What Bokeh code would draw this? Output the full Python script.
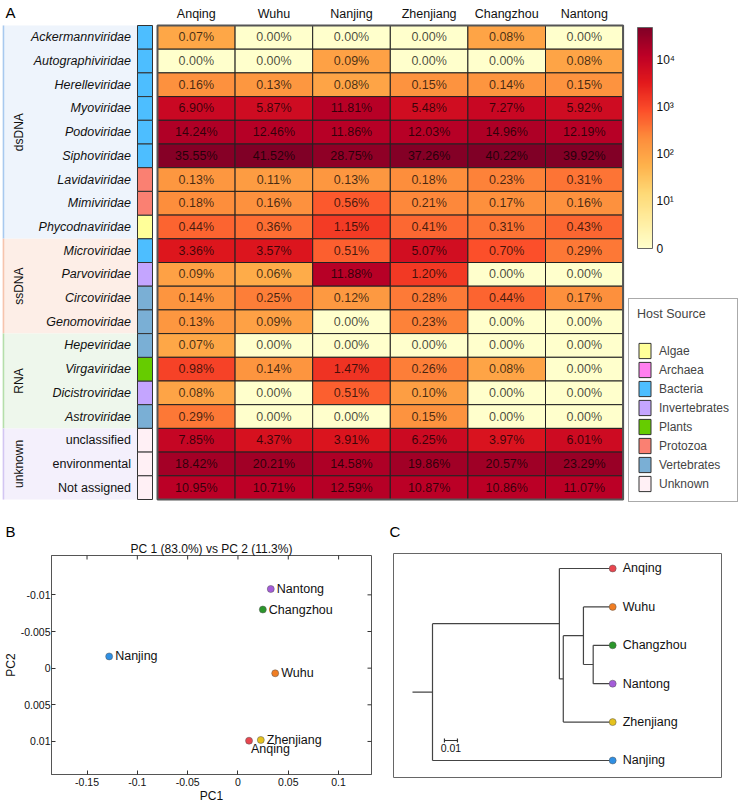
import numpy as np
from bokeh.plotting import figure
from bokeh.models import (Range1d, ColumnDataSource, LinearColorMapper, ColorBar,
                          FixedTicker, Legend, LegendItem, Title)
from bokeh.layouts import column, row
from bokeh.core.properties import value
from bokeh.embed import file_html
from bokeh.resources import INLINE

FONT = "Liberation Sans"

# ---------------- data: panel A ----------------
samples = ["Anqing", "Wuhu", "Nanjing", "Zhenjiang", "Changzhou", "Nantong"]
families = ["Ackermannviridae", "Autographiviridae", "Herelleviridae", "Myoviridae",
            "Podoviridae", "Siphoviridae", "Lavidaviridae", "Mimiviridae",
            "Phycodnaviridae", "Microviridae", "Parvoviridae", "Circoviridae",
            "Genomoviridae", "Hepeviridae", "Virgaviridae", "Dicistroviridae",
            "Astroviridae", "unclassified", "environmental", "Not assigned"]
family_host = ["Bacteria", "Bacteria", "Bacteria", "Bacteria", "Bacteria", "Bacteria",
               "Protozoa", "Protozoa", "Algae", "Bacteria", "Invertebrates", "Vertebrates",
               "Vertebrates", "Vertebrates", "Plants", "Invertebrates", "Vertebrates",
               "Unknown", "Unknown", "Unknown"]
family_group = ["dsDNA"] * 9 + ["ssDNA"] * 4 + ["RNA"] * 4 + ["unknown"] * 3

pct_anqing = [0.07, 0.00, 0.16, 6.90, 14.24, 35.55, 0.13, 0.18, 0.44, 3.36,
              0.09, 0.14, 0.13, 0.07, 0.98, 0.08, 0.29, 7.85, 18.42, 10.95]
pct_wuhu = [0.00, 0.00, 0.13, 5.87, 12.46, 41.52, 0.11, 0.16, 0.36, 3.57,
            0.06, 0.25, 0.09, 0.00, 0.14, 0.00, 0.00, 4.37, 20.21, 10.71]
pct_nanjing = [0.00, 0.09, 0.08, 11.81, 11.86, 28.75, 0.13, 0.56, 1.15, 0.51,
               11.88, 0.12, 0.00, 0.00, 1.47, 0.51, 0.00, 3.91, 14.58, 12.59]
pct_zhenjiang = [0.00, 0.00, 0.15, 5.48, 12.03, 37.26, 0.18, 0.21, 0.41, 5.07,
                 1.20, 0.28, 0.23, 0.00, 0.26, 0.10, 0.15, 6.25, 19.86, 10.87]
pct_changzhou = [0.08, 0.00, 0.14, 7.27, 14.96, 40.22, 0.23, 0.17, 0.31, 0.70,
                 0.00, 0.44, 0.00, 0.00, 0.08, 0.00, 0.00, 3.97, 20.57, 10.86]
pct_nantong = [0.00, 0.08, 0.15, 5.92, 12.19, 39.92, 0.31, 0.16, 0.43, 0.29,
               0.00, 0.17, 0.00, 0.00, 0.00, 0.00, 0.00, 6.01, 23.29, 11.07]
pct_table = [pct_anqing, pct_wuhu, pct_nanjing, pct_zhenjiang, pct_changzhou, pct_nantong]

host_types = ["Algae", "Archaea", "Bacteria", "Invertebrates", "Plants",
              "Protozoa", "Vertebrates", "Unknown"]
colorbar_ticks = [0, 1, 2, 3, 4]
colorbar_tick_labels = ["0", "10\u00b9", "10\u00b2", "10\u00b3", "10\u2074"]
reads_total = 120000          # approx. reads per sample (colour scale = log10(1+reads))
colorbar_max = 4.7

# ---------------- data: panel B ----------------
pca_title = "PC 1 (83.0%) vs PC 2 (11.3%)"
pc1 = [0.011, 0.037, -0.128, 0.0227, 0.0247, 0.0326]
pc2 = [0.0099, 0.0007, -0.0016, 0.0098, -0.0080, -0.0108]
pc1_ticks = [-0.15, -0.1, -0.05, 0, 0.05, 0.1]
pc1_tick_labels = ["-0.15", "-0.1", "-0.05", "0", "0.05", "0.1"]
pc2_ticks = [-0.01, -0.005, 0, 0.005, 0.01]
pc2_tick_labels = ["-0.01", "-0.005", "0", "0.005", "0.01"]
pc1_lim = (-0.1853, 0.1327)
pc2_lim = (0.01451, -0.01537)   # reversed axis (negative values at the top)

# ---------------- data: panel C ----------------
tree_tips = ["Anqing", "Wuhu", "Changzhou", "Nantong", "Zhenjiang", "Nanjing"]
tree_tip_depth = 0.154
tree_merges = [("Changzhou", "Nantong", "n1", 0.139),
               ("Wuhu", "n1", "n2", 0.1315),
               ("n2", "Zhenjiang", "n3", 0.116),
               ("Anqing", "n3", "n4", 0.113),
               ("n4", "Nanjing", "root", 0.0154)]
tree_scale = 0.01
tree_scale_label = "0.01"

panel_letters = ["A", "B", "C"]

# ---------------- styles ----------------
SAMPLE_COLORS = {"Anqing": "#E8464F", "Wuhu": "#F07D22", "Nanjing": "#2F8FE3",
                 "Zhenjiang": "#E5C21E", "Changzhou": "#2B962B", "Nantong": "#A45CD9"}
HOST_COLORS = {"Algae": "#FFFF99", "Archaea": "#FF7FEF", "Bacteria": "#4DBEFF",
               "Invertebrates": "#C4A5FF", "Plants": "#66CC00", "Protozoa": "#FA8072",
               "Vertebrates": "#7AAFD5", "Unknown": "#FFF0F5"}
GROUP_FILL = {"dsDNA": "#EEF4FC", "ssDNA": "#FDEEE7", "RNA": "#EEF7EC", "unknown": "#F4F0FC"}
GROUP_LINE = {"dsDNA": "#A8C9EF", "ssDNA": "#F6C4AD", "RNA": "#B5DEAA", "unknown": "#D3C6F2"}
YLORRD = ["#ffffcc", "#ffeda0", "#fed976", "#feb24c", "#fd8d3c",
          "#fc4e2a", "#e31a1c", "#bd0026", "#800026"]


def interp_palette(colors, n):
    rgb = np.array([[int(c[i:i + 2], 16) for i in (1, 3, 5)] for c in colors], float)
    t = np.linspace(0, len(colors) - 1, n)
    out = []
    for v in t:
        i = min(int(v), len(colors) - 2)
        f = v - i
        c = rgb[i] * (1 - f) + rgb[i + 1] * f
        out.append("#%02x%02x%02x" % tuple(int(round(x)) for x in c))
    return out


PALETTE = interp_palette(YLORRD, 256)
mapper = LinearColorMapper(palette=PALETTE, low=0, high=colorbar_max)

# ================= PANEL A (also carries the panel letters) =================
A_W, A_H = 738, 539
CW, RH = 77.6, 23.7
HEAT_LEFT, HEAT_TOP = 157, 25
xa0 = -0.5 - HEAT_LEFT / CW
ya0 = -0.5 - HEAT_TOP / RH


def ax(px):
    return xa0 + px / CW


def ay(py):
    return ya0 + py / RH


pA = figure(width=A_W, height=A_H, output_backend="svg", toolbar_location=None, tools="",
            x_range=Range1d(xa0, xa0 + A_W / CW), y_range=Range1d(ya0 + A_H / RH, ya0),
            x_axis_location=None, y_axis_location=None, min_border=0, frame_align=False)
pA.grid.visible = False
pA.outline_line_color = None

n_rows = len(families)
rows_idx = list(range(n_rows))

# group bands
groups_order = []
for g in family_group:
    if g not in groups_order:
        groups_order.append(g)
for g in groups_order:
    r = [i for i, gg in enumerate(family_group) if gg == g]
    y0, y1 = r[0] - 0.5, r[-1] + 0.5
    pA.quad(left=ax(2), right=ax(137), bottom=y1, top=y0, fill_color=GROUP_FILL[g],
            line_color=None)
    pA.segment(x0=ax(3), x1=ax(3), y0=y0, y1=y1, line_color=GROUP_LINE[g], line_width=1.5)
    pA.text(x=[ax(18)], y=[(y0 + y1) / 2], text=[g], angle=np.pi / 2,
            text_align="center", text_baseline="middle",
            text_font=value(FONT), text_font_size=value("12px"), text_color="#111")

# family labels
fam_src = ColumnDataSource(dict(
    x=[ax(130.5)] * n_rows, y=rows_idx, text=families,
    style=["normal" if g == "unknown" else "italic" for g in family_group]))
pA.text(x="x", y="y", text="text", source=fam_src, text_align="right",
        text_baseline="middle", text_font=value(FONT), text_font_size=value("12.5px"),
        text_font_style="style", text_color="#111")

# host colour column (one renderer per host type, used by the legend)
host_renderers = {}
for h in host_types:
    r = [i for i, hh in enumerate(family_host) if hh == h]
    xs = [ax(144.5)] * len(r) if r else [np.nan]
    ys = r if r else [np.nan]
    host_renderers[h] = pA.rect(x=xs, y=ys, width=15 / CW, height=1,
                                fill_color=HOST_COLORS[h], line_color="#333", line_width=1)

# heatmap cells
hx, hy, hv, ht = [], [], [], []
for j, s in enumerate(samples):
    for i, f in enumerate(families):
        p = pct_table[j][i]
        hx.append(j)
        hy.append(i)
        hv.append(np.log10(1 + p / 100.0 * reads_total))
        ht.append("%.2f%%" % p)
heat_src = ColumnDataSource(dict(x=hx, y=hy, v=hv, t=ht))
pA.rect(x="x", y="y", width=1, height=1, source=heat_src,
        fill_color={"field": "v", "transform": mapper}, line_color="#222", line_width=1)
pA.text(x="x", y="y", text="t", source=heat_src, text_align="center", text_baseline="middle",
        text_font=value(FONT), text_font_size=value("12.5px"), text_color="black",
        text_alpha=0.72)
pA.rect(x=[(len(samples) - 1) / 2], y=[(n_rows - 1) / 2], width=len(samples), height=n_rows,
        fill_color=None, line_color="#555", line_width=2)

# column headers
pA.text(x=list(range(len(samples))), y=[ay(13)] * len(samples), text=samples,
        text_align="center", text_baseline="middle", text_font=value(FONT),
        text_font_size=value("12.5px"), text_color="#111")

# panel letters A, B, C
pA.text(x=[ax(5), ax(5), ax(389)], y=[ay(12), ay(530.5), ay(530.5)], text=panel_letters,
        text_align="left", text_baseline="middle",
        text_font=value(FONT), text_font_size=value("15px"), text_color="black")

# colour bar
cb = ColorBar(color_mapper=mapper, ticker=FixedTicker(ticks=colorbar_ticks),
              major_label_overrides=dict(zip(colorbar_ticks, colorbar_tick_labels)),
              width=15, height=221, location=(637, A_H - 248), padding=0,
              orientation="vertical", label_standoff=4,
              major_label_text_font=FONT, major_label_text_font_size="12px",
              major_label_text_color="#111",
              major_tick_line_color=None, minor_tick_line_color=None,
              bar_line_color="#666", border_line_color=None, background_fill_alpha=0)
pA.add_layout(cb, "center")

# host legend
legend = Legend(items=[LegendItem(label=h, renderers=[host_renderers[h]]) for h in host_types],
                title="Host Source", location=(628, A_H - 502), orientation="vertical",
                padding=8, spacing=0, margin=0, glyph_height=19, glyph_width=15,
                label_height=19, label_standoff=7, title_standoff=20,
                label_text_font=FONT, label_text_font_size="12px",
                title_text_font=FONT, title_text_font_size="12.5px",
                title_text_font_style="normal", border_line_color="#555",
                background_fill_color="white", background_fill_alpha=1)
pA.add_layout(legend, "center")

# ================= PANEL B =================
BC_H = 805 - A_H
pB = figure(width=378, height=BC_H, output_backend="svg", toolbar_location=None, tools="",
            x_range=Range1d(*pc1_lim), y_range=Range1d(*pc2_lim), frame_align=False,
            min_border_left=51, min_border_right=7, min_border_top=13, min_border_bottom=24)
pB.grid.visible = False
pB.outline_line_color = "#555"


def style_axis(a, standoff):
    a.major_tick_in = 4
    a.major_tick_out = 0
    a.minor_tick_line_color = None
    a.axis_line_color = "#555"
    a.major_tick_line_color = "#333"
    a.major_label_text_font = FONT
    a.major_label_text_color = "#111"
    a.major_label_text_font_size = "10.5px"
    a.major_label_standoff = standoff
    a.axis_label_text_font = FONT
    a.axis_label_text_font_size = "12px"
    a.axis_label_text_font_style = "normal"
    a.axis_label_text_color = "#111"
    a.axis_label_standoff = 0


xa = pB.xaxis[0]
xa.ticker = FixedTicker(ticks=pc1_ticks)
xa.major_label_overrides = dict(zip(pc1_ticks, pc1_tick_labels))
style_axis(xa, 3)
xa.axis_label = "PC1"

ya_ = pB.yaxis[0]
ya_.ticker = FixedTicker(ticks=pc2_ticks)
ya_.major_label_overrides = dict(zip(pc2_ticks, pc2_tick_labels))
style_axis(ya_, 1)
ya_.axis_label = "PC2"

# mirrored inward ticks on the top and right frame edges (half of each dash is clipped)
pB.scatter(x=pc1_ticks, y=[pc2_lim[1]] * len(pc1_ticks), marker="dash", size=8,
           angle=np.pi / 2, line_color="#333", line_width=1)
pB.scatter(x=[pc1_lim[1]] * len(pc2_ticks), y=pc2_ticks, marker="dash", size=8,
           angle=0, line_color="#333", line_width=1)

pB.add_layout(Title(text=pca_title, align="center", text_font=FONT, text_font_size="12px",
                    text_font_style="normal", standoff=0, text_color="#111"), "above")

LABEL_NUDGE = {"Anqing": (2, 8)}
b_src = ColumnDataSource(dict(
    x=pc1, y=pc2, name=samples, color=[SAMPLE_COLORS[s] for s in samples],
    dx=[LABEL_NUDGE.get(s, (6, 0))[0] for s in samples],
    dy=[LABEL_NUDGE.get(s, (6, 0))[1] for s in samples]))
pB.scatter(x="x", y="y", source=b_src, size=7, fill_color="color", line_color="#555",
           line_width=0.5)
pB.text(x="x", y="y", text="name", source=b_src, x_offset="dx", y_offset="dy",
        text_baseline="middle", text_align="left", text_font=value(FONT),
        text_font_size=value("12.5px"), text_color="#111")

# ================= PANEL C =================
pC = figure(width=360, height=BC_H, output_backend="svg", toolbar_location=None, tools="",
            x_range=Range1d(-0.0146, 0.2377), y_range=Range1d(5.443, -0.39),
            x_axis_location=None, y_axis_location=None, frame_align=False,
            min_border_left=15, min_border_right=17, min_border_top=14, min_border_bottom=28)
pC.grid.visible = False
pC.outline_line_color = "#666"

node_y = {t: i for i, t in enumerate(tree_tips)}
node_x = {t: tree_tip_depth for t in tree_tips}
sx0, sy0, sx1, sy1 = [], [], [], []
for c1, c2, n, d in tree_merges:
    node_y[n] = (node_y[c1] + node_y[c2]) / 2
    node_x[n] = d
    sx0 += [d, d, d]
    sy0 += [node_y[c1], node_y[c1], node_y[c2]]
    sx1 += [d, node_x[c1], node_x[c2]]
    sy1 += [node_y[c2], node_y[c1], node_y[c2]]
root = tree_merges[-1][2]
sx0.append(0)
sy0.append(node_y[root])
sx1.append(node_x[root])
sy1.append(node_y[root])
pC.segment(x0=sx0, y0=sy0, x1=sx1, y1=sy1, line_color="#444", line_width=1.2)

c_src = ColumnDataSource(dict(x=[tree_tip_depth] * len(tree_tips), y=list(range(len(tree_tips))),
                              name=tree_tips, color=[SAMPLE_COLORS[s] for s in tree_tips]))
pC.scatter(x="x", y="y", source=c_src, size=7, fill_color="color", line_color="#555",
           line_width=0.5)
pC.text(x="x", y="y", text="name", source=c_src, x_offset=10, text_baseline="middle",
        text_align="left", text_font=value(FONT), text_font_size=value("12.5px"),
        text_color="#111")

# scale bar
sb_x0 = 0.0246
sb_y = 4.48
pC.segment(x0=[sb_x0, sb_x0, sb_x0 + tree_scale], y0=[sb_y, sb_y - 0.05, sb_y - 0.05],
           x1=[sb_x0 + tree_scale, sb_x0, sb_x0 + tree_scale], y1=[sb_y, sb_y + 0.05, sb_y + 0.05],
           line_color="#333", line_width=1.2)
pC.text(x=[sb_x0 + tree_scale / 2], y=[sb_y + 0.1], text=[tree_scale_label], text_align="center",
        text_baseline="top", text_font=value(FONT), text_font_size=value("10.5px"),
        text_color="#111")

layout = column(pA, row(pB, pC))
open("out.html", "w").write(file_html(layout, INLINE))
